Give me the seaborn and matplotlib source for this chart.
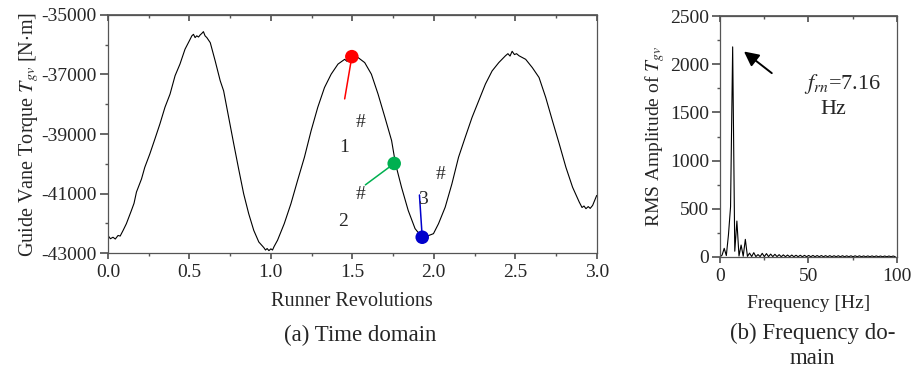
import numpy as np
import pandas as pd
import matplotlib.pyplot as plt
import seaborn as sns

# time domain
REV = [0.000, 0.015, 0.031, 0.045, 0.062, 0.075, 0.093, 0.113, 0.144, 0.160,
       0.175, 0.206, 0.226, 0.257, 0.288, 0.319, 0.350, 0.381, 0.412, 0.442,
       0.473, 0.504, 0.515, 0.525, 0.535, 0.545, 0.556, 0.566, 0.576, 0.586,
       0.596, 0.607, 0.628, 0.658, 0.689, 0.710, 0.741, 0.772, 0.802, 0.833,
       0.864, 0.895, 0.926, 0.957, 0.967, 0.977, 0.988, 1.000, 1.010, 1.020,
       1.041, 1.082, 1.123, 1.164, 1.206, 1.247, 1.288, 1.329, 1.370, 1.412,
       1.453, 1.468, 1.484, 1.500, 1.518, 1.535, 1.576, 1.617, 1.658, 1.700,
       1.741, 1.765, 1.802, 1.843, 1.885, 1.926, 1.947, 1.965, 1.998, 2.029,
       2.070, 2.111, 2.152, 2.193, 2.235, 2.276, 2.317, 2.358, 2.399, 2.440,
       2.455, 2.468, 2.481, 2.495, 2.508, 2.523, 2.564, 2.605, 2.646, 2.687,
       2.728, 2.770, 2.811, 2.852, 2.893, 2.910, 2.922, 2.934, 2.948, 2.960,
       2.975, 3.000]
TORQUE = [-42410, -42520, -42470, -42530, -42410, -42430, -42240, -42015, -41570, -41330,
          -40950, -40510, -40120, -39670, -39170, -38660, -38100, -37660, -37040, -36650,
          -36150, -35820, -35700, -35650, -35760, -35700, -35740, -35670, -35620, -35560,
          -35700, -35760, -35930, -36540, -37210, -37550, -38440, -39330, -40170, -41010,
          -41680, -42240, -42630, -42820, -42900, -42850, -42920, -42860, -42900, -42780,
          -42570, -42015, -41345, -40560, -39780, -38890, -38100, -37440, -36990, -36650,
          -36490, -36560, -36430, -36480, -36400, -36430, -36600, -36990, -37660, -38440,
          -39220, -40000, -40790, -41570, -42180, -42460, -42480, -42420, -42350, -42015,
          -41460, -40680, -39780, -39110, -38440, -37880, -37320, -36880, -36600, -36370,
          -36300, -36380, -36220, -36330, -36300, -36370, -36490, -36770, -37100, -37770,
          -38550, -39330, -40120, -40790, -41290, -41470, -41420, -41510, -41440, -41500,
          -41400, -41065]

# marked positions 1#, 2#, 3#
MARK_REV = [1.497, 1.757, 1.929]
MARK_TORQUE = [-36400, -39990, -42470]
MARK_COLORS = ["#ff0000", "#00b050", "#0000cc"]

# frequency domain
DF = 7.16 / 6
AMP = [0, 20, 90, 15, 228, 520, 2180, 60, 373, 10,
       124, 8, 183, 6, 40, 5, 45, 4, 25, 4,
       38, 4, 35, 4, 30, 4, 28, 4, 24, 3,
       22, 3, 20, 3, 20, 3, 18, 3, 18, 3,
       17, 3, 16, 3, 16, 3, 15, 3, 15, 3,
       14, 3, 14, 3, 13, 3, 13, 3, 13, 3,
       12, 3, 12, 3, 12, 3, 12, 3, 11, 3,
       11, 3, 11, 3, 11, 3, 10, 3, 10, 3,
       10, 3, 10, 3]
FREQ = np.arange(len(AMP)) * DF

sns.set_theme(style="ticks")
plt.rcParams["font.family"] = ["Liberation Serif", "DejaVu Serif"]
plt.rcParams["mathtext.fontset"] = "stix"
plt.rcParams["axes.unicode_minus"] = False

fig = plt.figure(figsize=(9.18, 3.73), dpi=100)
ax1 = fig.add_axes([0.1176, 0.3217, 0.5324, 0.6381])
ax2 = fig.add_axes([0.7843, 0.311, 0.1928, 0.646])

grey = "#555555"
for ax in (ax1, ax2):
    for s in ax.spines.values():
        s.set_color(grey)
        s.set_linewidth(0.9)
    ax.tick_params(which="both", direction="out", color=grey, labelsize=14, pad=2)
    ax.tick_params(axis="y", which="major", length=6)
    ax.tick_params(axis="x", which="major", length=4, pad=4)
    ax.tick_params(which="minor", length=2.5)

# (a) time domain
td = pd.DataFrame({"rev": REV, "torque": TORQUE})
sns.lineplot(data=td, x="rev", y="torque", ax=ax1, color="black", lw=0.8, sort=False)
ax1.set_xlim(0, 3)
ax1.set_ylim(-43000, -35000)
ax1.set_xticks(np.arange(0, 3.01, 0.5))
ax1.set_xticks(np.arange(0.25, 3, 0.5), minor=True)
ax1.set_yticks(np.arange(-43000, -34999, 2000))
ax1.set_yticks(np.arange(-42000, -35000, 2000), minor=True)
ax1.set_xticklabels([f"{v:.1f}" for v in np.arange(0, 3.01, 0.5)])
ax1.set_xlabel("Runner Revolutions", fontsize=14.5, labelpad=8)
ax1.set_ylabel(r"Guide Vane Torque $T_{gv}$ [N$\cdot$m]", fontsize=14.5, labelpad=0)

ends = [(1.453, -37820), (1.580, -40710), (1.912, -41050)]
for xm, ym, c, (xe, ye) in zip(MARK_REV, MARK_TORQUE, MARK_COLORS, ends):
    ax1.plot([xm, xe], [ym, ye], color=c, lw=1.1)
sns.scatterplot(x=MARK_REV, y=MARK_TORQUE, hue=MARK_COLORS, palette=MARK_COLORS,
                s=95, edgecolor="none", legend=False, ax=ax1, zorder=5)
for x, y, t in [(1.549, -38620, "#"), (1.449, -39470, "1"), (1.549, -41050, "#"),
                (1.445, -41955, "2"), (1.935, -41215, "3"), (2.041, -40376, "#")]:
    ax1.text(x, y, t, fontsize=14, ha="center", va="center")

# (b) frequency domain
fd = pd.DataFrame({"freq": FREQ, "amp": AMP})
sns.lineplot(data=fd, x="freq", y="amp", ax=ax2, color="black", lw=0.8, sort=False)
ax2.set_xlim(0, 100)
ax2.set_ylim(0, 2500)
ax2.set_xticks([0, 50, 100])
ax2.set_xticks([25, 75], minor=True)
ax2.set_yticks(np.arange(0, 2501, 500))
ax2.set_yticks(np.arange(250, 2500, 500), minor=True)
ax2.set_xlabel("Frequency [Hz]", fontsize=14, labelpad=7)
ax2.set_ylabel(r"RMS Amplitude of $T_{gv}$", fontsize=14, labelpad=2)
ax2.annotate("", xy=(12.3, 2150), xytext=(30.5, 1890),
             arrowprops=dict(arrowstyle="-|>", color="black", lw=1.4, mutation_scale=22))
ax2.text(69, 1790, r"$f_{rn}$=7.16", fontsize=16, ha="center", va="center")
ax2.text(64, 1530, "Hz", fontsize=16, ha="center", va="center")

# inward ticks on the top spines
for ax, maj, mn in [(ax1, np.arange(0, 3.01, 0.5), np.arange(0.25, 3, 0.5)),
                    (ax2, [0, 50, 100], [25, 75])]:
    top = ax.secondary_xaxis("top")
    top.set_xticks(maj)
    top.set_xticks(mn, minor=True)
    top.tick_params(which="both", direction="in", labeltop=False, color=grey)
    top.tick_params(which="major", length=4)
    top.tick_params(which="minor", length=2.5)
    top.spines["top"].set_color(grey)

fig.text(0.392, 0.102, "(a) Time domain", fontsize=16.5, ha="center", va="center")
fig.text(0.885, 0.107, "(b) Frequency do-", fontsize=16.5, ha="center", va="center")
fig.text(0.885, 0.040, "main", fontsize=16.5, ha="center", va="center")

fig.savefig("out.png", dpi=100)
